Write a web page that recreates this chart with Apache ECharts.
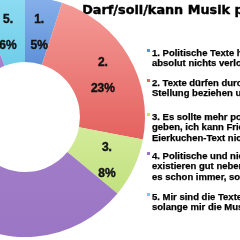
<!DOCTYPE html>
<html><head><meta charset="utf-8">
<script src="https://cdn.jsdelivr.net/npm/echarts@6/dist/echarts.min.js"></script>
<style>html,body{margin:0;padding:0;background:#fff}#c{width:240px;height:240px}</style>
</head><body><div id="c"></div>
<script>
const categories = ['1', '2', '3', '4', '5'];
const values = [5, 23, 8, 58, 6];
const titleText = 'Darf/soll/kann Musik politisch sein?';
const legendLines = [
  ['1. Politische Texte haben in der Musik', 'absolut nichts verloren.'],
  ['2. Texte dürfen durchaus politisch', 'Stellung beziehen und Kritik üben.'],
  ['3. Es sollte mehr politische Texte', 'geben, ich kann Friede-Freude-', 'Eierkuchen-Text nicht mehr hören.'],
  ['4. Politische und nicht politische Texte', 'existieren gut nebeneinander, das war', 'es schon immer, so soll es bleiben.'],
  ['5. Mir sind die Texte egal,', 'solange mir die Musik gefällt.']
];
const legendTops = [48, 78, 112, 151, 192];
const colorTop = ['#86b0ea', '#f49a96', '#d3eb9a', '#a986d0', '#8ddcf2'];
const colorBottom = ['#5f91d8', '#e4625f', '#c2e17e', '#9b76c4', '#6fcde8'];

const chart = echarts.init(document.getElementById('c'), null, {renderer: 'canvas'});
const grad = (i) => new echarts.graphic.LinearGradient(0, 0, 0, 1, [
  {offset: 0, color: colorTop[i]}, {offset: 1, color: colorBottom[i]}]);

const graphics = [{
  type: 'text', left: 82, top: 4,
  style: {text: titleText, font: 'bold 12.8px "DejaVu Sans", sans-serif', fill: '#000',
          stroke: '#000', lineWidth: 0.4}
}];
legendLines.forEach((lines, i) => {
  const y = legendTops[i];
  graphics.push({type: 'rect', shape: {x: 147, y: y + 1, width: 3, height: 3}, style: {fill: colorBottom[i]}});
  graphics.push({type: 'text', x: 152, y: y,
    style: {text: lines.join('\n'), font: 'bold 9.5px "Liberation Sans", Arial, sans-serif',
            fill: '#000', lineHeight: 10.5, verticalAlign: 'top', stroke: '#000', lineWidth: 0.25}});
});

chart.setOption({
  animation: false,
  graphic: graphics,
  series: [{
    type: 'pie',
    center: [25, 117],
    radius: [55, 120],
    startAngle: 90,
    clockwise: true,
    data: categories.map((c, i) => ({name: c, value: values[i], itemStyle: {color: grad(i)}})),
    label: {
      show: true, position: 'inside',
      formatter: (p) => p.name + '.\n' + p.value + '%',
      fontFamily: '"Liberation Sans", Arial, sans-serif', fontWeight: 'bold', fontSize: 12,
      color: '#111', lineHeight: 26, textBorderColor: '#111', textBorderWidth: 0.4,
      offset: [0, 5]
    },
    labelLine: {show: false},
    emphasis: {disabled: true}
  }]
});
</script></body></html>
